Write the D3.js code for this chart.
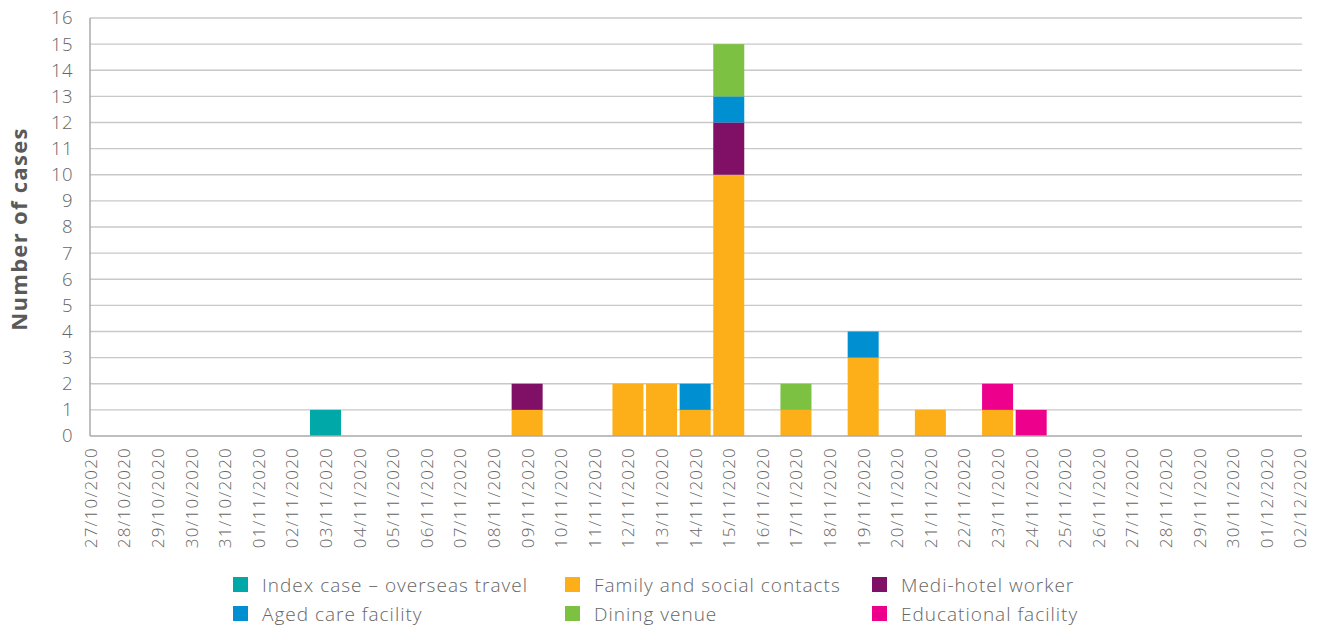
<!DOCTYPE html>
<html><head><meta charset="utf-8">
<script src="https://cdn.jsdelivr.net/npm/d3@7/dist/d3.min.js"></script>
<style>body{margin:0;background:#fff}svg{display:block;font-family:"Open Sans",sans-serif}</style>
</head><body><svg id="c" width="1319" height="626"></svg>
<script>
const dates = ["27/10/2020","28/10/2020","29/10/2020","30/10/2020","31/10/2020","01/11/2020","02/11/2020","03/11/2020","04/11/2020","05/11/2020","06/11/2020","07/11/2020","08/11/2020","09/11/2020","10/11/2020","11/11/2020","12/11/2020","13/11/2020","14/11/2020","15/11/2020","16/11/2020","17/11/2020","18/11/2020","19/11/2020","20/11/2020","21/11/2020","22/11/2020","23/11/2020","24/11/2020","25/11/2020","26/11/2020","27/11/2020","28/11/2020","29/11/2020","30/11/2020","01/12/2020","02/12/2020"];
const seriesNames = ["Index case – overseas travel","Family and social contacts","Medi-hotel worker","Aged care facility","Dining venue","Educational facility"];
const seriesColors = ["#00a9a8","#fdaf1a","#800f66","#0090d2","#7cc142","#ec008c"];
const indexCase = [0,0,0,0,0,0,0,1,0,0,0,0,0,0,0,0,0,0,0,0,0,0,0,0,0,0,0,0,0,0,0,0,0,0,0,0,0];
const family    = [0,0,0,0,0,0,0,0,0,0,0,0,0,1,0,0,2,2,1,10,0,1,0,3,0,1,0,1,0,0,0,0,0,0,0,0,0];
const mediHotel = [0,0,0,0,0,0,0,0,0,0,0,0,0,1,0,0,0,0,0,2,0,0,0,0,0,0,0,0,0,0,0,0,0,0,0,0,0];
const agedCare  = [0,0,0,0,0,0,0,0,0,0,0,0,0,0,0,0,0,0,1,1,0,0,0,1,0,0,0,0,0,0,0,0,0,0,0,0,0];
const dining    = [0,0,0,0,0,0,0,0,0,0,0,0,0,0,0,0,0,0,0,2,0,1,0,0,0,0,0,0,0,0,0,0,0,0,0,0,0];
const education = [0,0,0,0,0,0,0,0,0,0,0,0,0,0,0,0,0,0,0,0,0,0,0,0,0,0,0,1,1,0,0,0,0,0,0,0,0];
const yTicks = d3.range(0,17);

const seriesData = [indexCase,family,mediHotel,agedCare,dining,education];
const table = dates.map((d,i)=>{const o={date:d};seriesNames.forEach((s,j)=>o[s]=seriesData[j][i]);return o;});
const stack = d3.stack().keys(seriesNames)(table);

const svg = d3.select("#c");
const L=90,R=1300,T=18,B=436;
const x = d3.scalePoint().domain(dates).range([L+0.3,R]);
const y = d3.scaleLinear().domain([0,16]).range([B,T]);
const bw = 31;
const FONT = '"Open Sans",sans-serif';

svg.append("g").selectAll("line").data(yTicks.filter(t=>t>0)).join("line")
  .attr("x1",L).attr("x2",R+2).attr("y1",d=>y(d)).attr("y2",d=>y(d))
  .attr("stroke","#c8c8c8").attr("stroke-width",1.4);

svg.append("g").selectAll("g").data(stack).join("g")
  .attr("fill",(d,i)=>seriesColors[i])
  .selectAll("rect").data(d=>d.filter(p=>p[1]-p[0]>0)).join("rect")
  .attr("x",d=>x(d.data.date)-bw/2).attr("width",bw)
  .attr("y",d=>y(d[1])).attr("height",d=>y(d[0])-y(d[1]));

svg.append("line").attr("x1",L).attr("x2",L).attr("y1",T).attr("y2",B).attr("stroke","#aaa").attr("stroke-width",1.5);
svg.append("line").attr("x1",L).attr("x2",R+2).attr("y1",B).attr("y2",B).attr("stroke","#aaa").attr("stroke-width",1.5);

const yAxis = d3.axisLeft(y).tickValues(yTicks).tickSize(0).tickPadding(17);
const gy = svg.append("g").attr("transform",`translate(${L},0)`).call(yAxis);
gy.select(".domain").remove();
gy.selectAll("text").attr("font-size",18.5).attr("fill","#666").attr("font-family",FONT).attr("font-weight",300).attr("letter-spacing",0.5);

const xAxis = d3.axisBottom(x).tickSize(0);
const gx = svg.append("g").attr("transform",`translate(0,${B})`).call(xAxis);
gx.select(".domain").remove();
gx.selectAll("text").attr("font-size",17).attr("fill","#666").attr("font-family",FONT).attr("font-weight",300).attr("letter-spacing",1.2)
  .attr("transform","rotate(-90)").attr("text-anchor","end").attr("dy","0.35em").attr("x",-11).attr("y",0);

svg.append("text").attr("transform","translate(27,229) rotate(-90)").attr("text-anchor","middle")
  .attr("font-family",FONT).attr("font-size",22).attr("font-weight",700).attr("fill","#5a5a5a").attr("letter-spacing",1.3).text("Number of cases");

const legPos = [[233,585],[565,585],[872,585],[233,614],[565,614],[872,614]];
const leg = svg.append("g").selectAll("g").data(seriesNames).join("g")
  .attr("transform",(d,i)=>`translate(${legPos[i][0]},${legPos[i][1]})`);
leg.append("rect").attr("x",0).attr("y",-8).attr("width",15).attr("height",15).attr("fill",(d,i)=>seriesColors[i]);
leg.append("text").attr("x",29).attr("y",0).attr("dy","0.35em").attr("font-family",FONT).attr("font-size",19).attr("font-weight",300).attr("letter-spacing",1).attr("fill","#666").text(d=>d);
</script></body></html>
